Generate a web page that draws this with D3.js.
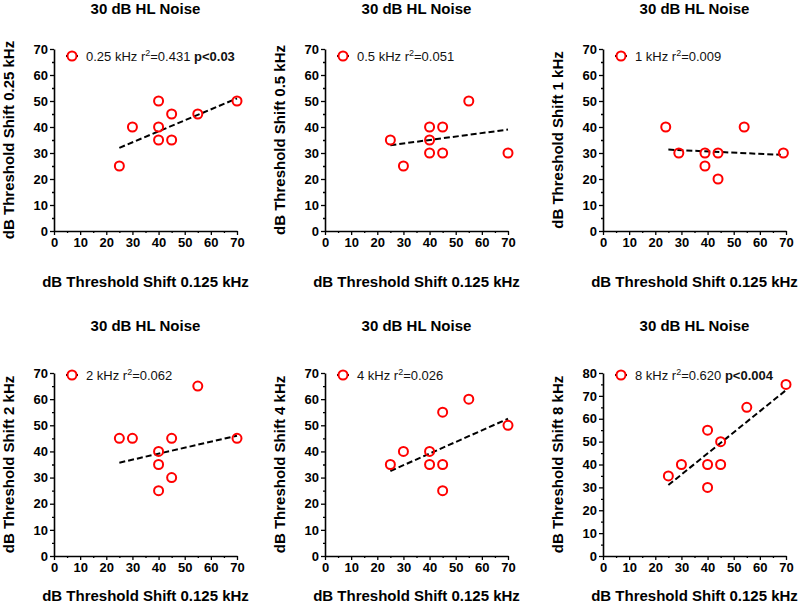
<!DOCTYPE html>
<html><head><meta charset="utf-8">
<script src="https://cdn.jsdelivr.net/npm/d3@7"></script>
<style>
body{margin:0;background:#fff;}
text{font-family:"Liberation Sans",Arial,Helvetica,sans-serif;}
</style></head>
<body>
<script>
// ---------- data ----------
const titleText = "30 dB HL Noise";
const xAxisTitle = "dB Threshold Shift 0.125 kHz";
const frequencies = ["0.25", "0.5", "1", "2", "4", "8"];
const xTicks = [0, 10, 20, 30, 40, 50, 60, 70];
const xMinorTicks = [5, 15, 25, 35, 45, 55, 65];
const yTicks70 = [0, 10, 20, 30, 40, 50, 60, 70];
const yTicks80 = [0, 10, 20, 30, 40, 50, 60, 70, 80];

const x_025 = [25, 30, 40, 40, 40, 45, 45, 55, 70];
const y_025 = [25, 40, 50, 40, 35, 45, 35, 45, 50];
const fit_025 = [[25, 32], [70, 51]];

const x_05 = [25, 30, 40, 40, 40, 45, 45, 55, 70];
const y_05 = [35, 25, 40, 35, 30, 40, 30, 50, 30];
const fit_05 = [[25, 33], [70, 39]];

const x_1 = [24, 29, 39, 39, 44, 44, 54, 69];
const y_1 = [40, 30, 30, 25, 30, 20, 40, 30];
const fit_1 = [[25, 31.3], [68, 29.3]];

const x_2 = [25, 30, 40, 40, 40, 45, 45, 55, 70];
const y_2 = [45, 45, 40, 35, 25, 45, 30, 65, 45];
const fit_2 = [[25, 35.7], [70, 46]];

const x_4 = [25, 30, 40, 40, 45, 45, 45, 55, 70];
const y_4 = [35, 40, 40, 35, 55, 35, 25, 60, 50];
const fit_4 = [[25, 32.5], [70, 52.5]];

const x_8 = [25, 30, 40, 40, 40, 45, 45, 55, 70];
const y_8 = [35, 40, 55, 40, 30, 50, 40, 65, 75];
const fit_8 = [[25, 31], [70, 72.5]];

const r2Values = ["0.431", "0.051", "0.009", "0.062", "0.026", "0.620"];
const pValues = ["p<0.03", "", "", "", "", "p<0.004"];
const yMaxValues = [70, 70, 70, 70, 70, 80];

// ---------- build ----------
const xsAll = [x_025, x_05, x_1, x_2, x_4, x_8];
const ysAll = [y_025, y_05, y_1, y_2, y_4, y_8];
const fitsAll = [fit_025, fit_05, fit_1, fit_2, fit_4, fit_8];

const W = 800, H = 611;
const colLeft = [54, 325, 603];
const plotW = 183;
const rowTop = [49, 373];
const rowBottom = [231, 556];
const titleY = [14, 331];
const xTitleY = [287, 601];
const legendDy = [7, 2];

const svg = d3.select("body").append("svg").attr("width", W).attr("height", H);

frequencies.forEach((f, i) => {
  const col = i % 3, row = Math.floor(i / 3);
  const left = colLeft[col], top = rowTop[row], bottom = rowBottom[row];
  const x = d3.scaleLinear().domain([0, 70]).range([left, left + plotW]);
  const yMax = yMaxValues[i];
  const y = d3.scaleLinear().domain([0, yMax]).range([bottom, top]);
  const g = svg.append("g");

  // title
  g.append("text").attr("x", left + plotW / 2).attr("y", titleY[row])
    .attr("text-anchor", "middle").attr("font-size", 15).attr("font-weight", "bold")
    .text(titleText);

  // x axis
  g.append("g").attr("transform", `translate(0,${bottom})`)
    .call(d3.axisBottom(x).tickValues(xTicks).tickSize(4).tickSizeOuter(0).tickPadding(3));
  g.append("g").attr("transform", `translate(0,${bottom})`)
    .call(d3.axisBottom(x).tickValues(xMinorTicks).tickSize(2).tickSizeOuter(0).tickFormat(""))
    .call(a => a.select(".domain").remove());
  // y axis
  const yTicks = yMax === 80 ? yTicks80 : yTicks70;
  const yMinor = yTicks.slice(0, -1).map(v => v + 5);
  g.append("g").attr("transform", `translate(${left},0)`)
    .call(d3.axisLeft(y).tickValues(yTicks).tickSize(4).tickSizeOuter(0).tickPadding(2));
  g.append("g").attr("transform", `translate(${left},0)`)
    .call(d3.axisLeft(y).tickValues(yMinor).tickSize(2).tickSizeOuter(0).tickFormat(""))
    .call(a => a.select(".domain").remove());
  g.selectAll(".domain").attr("stroke", "#000").attr("stroke-width", 1.6);
  g.selectAll(".tick line").attr("stroke", "#000").attr("stroke-width", 1.3);
  g.selectAll(".tick text").attr("font-size", 13).attr("font-weight", "bold").attr("fill", "#000")
    .attr("font-family", "Liberation Sans, Arial, sans-serif");

  // axis titles
  g.append("text").attr("x", left + plotW / 2).attr("y", xTitleY[row])
    .attr("text-anchor", "middle").attr("font-size", 15).attr("font-weight", "bold")
    .text(xAxisTitle);
  const cy = (top + bottom) / 2;
  g.append("text").attr("transform", `translate(${left - 40},${cy}) rotate(-90)`)
    .attr("text-anchor", "middle").attr("font-size", 15).attr("font-weight", "bold")
    .text(`dB Threshold Shift ${f} kHz`);

  // fit line
  const fit = fitsAll[i];
  g.append("path").attr("d", d3.line().x(d => x(d[0])).y(d => y(d[1]))(fit))
    .attr("stroke", "#000").attr("stroke-width", 2).attr("fill", "none")
    .attr("stroke-dasharray", "6,3");

  // points
  const pts = xsAll[i].map((v, k) => [v, ysAll[i][k]]);
  g.selectAll("circle.pt").data(pts).join("circle").attr("class", "pt")
    .attr("cx", d => x(d[0])).attr("cy", d => y(d[1])).attr("r", 4.5)
    .attr("fill", "none").attr("stroke", "#ff0000").attr("stroke-width", 2);

  // legend
  const lx = left + 18, ly = top + legendDy[row];
  g.append("line").attr("x1", lx - 6).attr("x2", lx + 6).attr("y1", ly).attr("y2", ly)
    .attr("stroke", "#000").attr("stroke-width", 2);
  g.append("circle").attr("cx", lx).attr("cy", ly).attr("r", 4.5)
    .attr("fill", "#fff").attr("stroke", "#ff0000").attr("stroke-width", 2);
  const t = g.append("text").attr("x", lx + 14).attr("y", ly + 4.5).attr("font-size", 13).attr("fill", "#111");
  t.append("tspan").text(`${f} kHz r`);
  t.append("tspan").attr("font-size", 9).attr("dy", -5).text("2");
  t.append("tspan").attr("dy", 5).text(`=${r2Values[i]}`);
  if (pValues[i]) t.append("tspan").attr("font-weight", "bold").text(" " + pValues[i]);
});
</script>
</body></html>
